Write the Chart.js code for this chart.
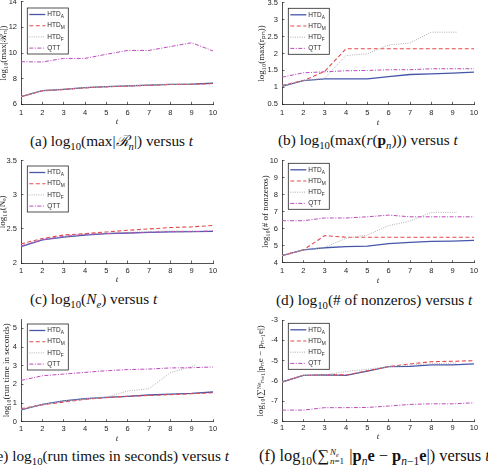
<!DOCTYPE html>
<html>
<head>
<script src="https://cdn.jsdelivr.net/npm/chart.js"></script>
<style>
    body {
        margin: 0;
        width: 488px;
        height: 471px;
        overflow: hidden;
        position: relative;
        background: white;
    }
    canvas { position: absolute; }
    .cap {
        position: absolute;
        white-space: nowrap;
        font-family: "Liberation Serif", "Times New Roman", serif;
        font-size: 15.3px;
        color: #111;
        transform: translateY(-50%);
    }
    .cap sub { font-size: 70%; vertical-align: -0.35em; line-height: 0; }
    .cap sup { font-size: 70%; vertical-align: 0.5em; line-height: 0; }
    .lim {
        display: inline-block;
        vertical-align: middle;
        font-size: 9px;
        line-height: 9px;
        margin: 0 1px;
    }
</style>
</head>
<body>

<div class="cap" style="left:30px;top:140px">(a) log<sub>10</sub>(max|<i>ℛ</i><sub><i>n</i></sub>|) versus <i>t</i></div>
<div class="cap" style="left:278px;top:140px">(b) log<sub>10</sub>(max(<i>r</i>(<b>p</b><sub><i>n</i></sub>))) versus <i>t</i></div>
<div class="cap" style="left:30px;top:299px">(c) log<sub>10</sub>(<i>N</i><sub><i>e</i></sub>) versus <i>t</i></div>
<div class="cap" style="left:276px;top:300px">(d) log<sub>10</sub>(# of nonzeros) versus <i>t</i></div>
<div class="cap" style="right:259px;top:456px">(e) log<sub>10</sub>(run times in seconds) versus <i>t</i></div>
<div class="cap" style="left:259px;top:456px;font-size:16.4px">(f) log<sub>10</sub>(∑<span class="lim"><i>N<sub>e</sub></i><br><i>n</i>=1</span> |<b>p</b><sub><i>n</i></sub><b>e</b> − <b>p</b><sub><i>n</i>−1</sub><b>e</b>|) versus <i>t</i></div>

<script>
    // time steps (HTD_F stops a bit after t = 9)
    const tSteps = [1, 2, 3, 4, 5, 6, 7, 8, 9, 10];
    const tStepsF = [1, 2, 3, 4, 5, 6, 7, 8, 9, 9.2];

    const seriesNames = ["HTD", "HTD", "HTD", "QTT"];
    const seriesSubs = ["A", "M", "F", ""];

    // (a) log10(max|R_n|)
    const aHtdA = [6.6, 7.06, 7.17, 7.3, 7.38, 7.43, 7.5, 7.56, 7.58, 7.64];
    const aHtdM = [6.6, 7.05, 7.15, 7.28, 7.36, 7.42, 7.48, 7.54, 7.57, 7.62];
    const aHtdF = [6.61, 7.07, 7.18, 7.31, 7.39, 7.44, 7.51, 7.56, 7.59, 7.6];
    const aQtt = [9.32, 9.3, 9.58, 9.58, 9.9, 10.2, 10.2, 10.5, 10.8, 10.16];

    // (b) log10(max(r(p_n)))
    const bHtdA = [1.03, 1.2, 1.25, 1.25, 1.25, 1.32, 1.38, 1.4, 1.42, 1.45];
    const bHtdM = [1.06, 1.2, 1.47, 2.14, 2.14, 2.14, 2.14, 2.14, 2.14, 2.14];
    const bHtdF = [1.04, 1.2, 1.27, 1.94, 1.99, 2.25, 2.31, 2.63, 2.63, 2.63];
    const bQtt = [1.3, 1.43, 1.46, 1.49, 1.5, 1.52, 1.52, 1.55, 1.55, 1.55];

    // (c) log10(N_e)
    const cHtdA = [2.24, 2.34, 2.38, 2.41, 2.43, 2.44, 2.45, 2.455, 2.46, 2.465];
    const cHtdM = [2.28, 2.36, 2.41, 2.43, 2.455, 2.48, 2.5, 2.52, 2.53, 2.55];
    const cHtdF = [2.25, 2.35, 2.39, 2.42, 2.44, 2.45, 2.46, 2.47, 2.47, 2.47];
    const cQtt = [2.25, 2.34, 2.39, 2.42, 2.43, 2.44, 2.45, 2.46, 2.46, 2.47];

    // (d) log10(# of nonzeros)
    const dHtdA = [4.41, 4.75, 4.88, 4.94, 4.98, 5.12, 5.2, 5.25, 5.27, 5.31];
    const dHtdM = [4.42, 4.75, 5.59, 5.5, 5.5, 5.5, 5.5, 5.5, 5.5, 5.5];
    const dHtdF = [4.42, 4.75, 4.9, 5.43, 5.63, 6.18, 6.45, 6.96, 6.96, 6.97];
    const dQtt = [6.47, 6.47, 6.63, 6.63, 6.7, 6.8, 6.7, 6.7, 6.7, 6.7];

    // (e) log10(run time in seconds)
    const eHtdA = [0.63, 0.93, 1.11, 1.23, 1.3, 1.36, 1.43, 1.48, 1.52, 1.59];
    const eHtdM = [0.7, 0.9, 1.05, 1.2, 1.29, 1.36, 1.41, 1.45, 1.5, 1.55];
    const eHtdF = [0.65, 0.92, 1.1, 1.22, 1.32, 1.64, 1.77, 2.63, 2.95, 3.04];
    const eQtt = [2.21, 2.46, 2.55, 2.64, 2.73, 2.79, 2.82, 2.88, 2.89, 2.93];

    // (f) log10(sum |p_n e - p_{n-1} e|)
    const fHtdA = [-6.05, -5.72, -5.7, -5.72, -5.51, -5.29, -5.28, -5.21, -5.21, -5.16];
    const fHtdM = [-6.05, -5.72, -5.7, -5.7, -5.5, -5.29, -5.16, -5.05, -5.03, -5.0];
    const fHtdF = [-6.05, -5.72, -5.7, -5.53, -5.42, -5.29, -5.22, -5.15, -5.12, -5.12];
    const fQtt = [-7.43, -7.43, -7.31, -7.31, -7.3, -7.23, -7.15, -7.12, -7.12, -7.07];

    const lineStyles = [
        { color: "#4656aa", width: 1.3, dash: [] },
        { color: "#e24a4e", width: 1.1, dash: [4, 2.5] },
        { color: "#b0b0b0", width: 1, dash: [1, 1.3] },
        { color: "#bb4cbb", width: 1, dash: [4, 1.5, 1, 1.5] }
    ];
    const axisColor = "#262626";

    // legend box with subscripts, drawn like the matlab one
    const boxLegend = {
        id: "boxLegend",
        afterDraw(chart, args, opts) {
            const ctx = chart.ctx, area = chart.chartArea;
            const x0 = area.left + opts.dx, y0 = area.top + opts.dy;
            const w = 41, h = 46;
            ctx.save();
            ctx.fillStyle = "#fff";
            ctx.fillRect(x0, y0, w, h);
            ctx.strokeStyle = axisColor;
            ctx.lineWidth = 0.8;
            ctx.strokeRect(x0, y0, w, h);
            chart.data.datasets.forEach((ds, i) => {
                const y = y0 + 6.5 + i * 11.2;
                ctx.beginPath();
                ctx.setLineDash(ds.borderDash || []);
                ctx.strokeStyle = ds.borderColor;
                ctx.lineWidth = ds.borderWidth;
                ctx.moveTo(x0 + 2, y);
                ctx.lineTo(x0 + 18, y);
                ctx.stroke();
                ctx.setLineDash([]);
                ctx.fillStyle = axisColor;
                ctx.textBaseline = "middle";
                ctx.font = '6.5px "Liberation Sans"';
                ctx.fillText(seriesNames[i], x0 + 20, y);
                const tw = ctx.measureText(seriesNames[i]).width;
                if (seriesSubs[i]) {
                    ctx.font = '4.8px "Liberation Sans"';
                    ctx.fillText(seriesSubs[i], x0 + 20 + tw, y + 2.4);
                }
            });
            ctx.restore();
        }
    };

    function makePanel(p) {
        const cl = p.col === 0 ? -8 : 240;
        const cr = p.col === 0 ? 232 : 488;
        const ct = Math.floor(p.plotT - 12);
        const cb = Math.ceil(p.plotB + 25);
        const cv = document.createElement("canvas");
        cv.width = cr - cl;
        cv.height = cb - ct;
        cv.style.left = cl + "px";
        cv.style.top = ct + "px";
        cv.style.width = (cr - cl) + "px";
        cv.style.height = (cb - ct) + "px";
        document.body.appendChild(cv);

        const lh = 9 * 1.2;
        const datasets = p.series.map((vals, i) => {
            const xs = i === 2 ? tStepsF : tSteps;
            return {
                label: seriesNames[i] + seriesSubs[i],
                data: xs.map((x, k) => ({ x: x, y: vals[k] })),
                borderColor: lineStyles[i].color,
                borderWidth: lineStyles[i].width,
                borderDash: lineStyles[i].dash,
                pointRadius: 0,
                tension: 0,
                fill: false,
                order: 4 - i
            };
        });

        new Chart(cv, {
            type: "line",
            data: { datasets: datasets },
            plugins: [boxLegend],
            options: {
                responsive: false,
                animation: false,
                layout: { padding: { left: 0, top: p.plotT - ct, right: cr - p.plotR, bottom: 0 } },
                plugins: {
                    legend: { display: false },
                    tooltip: { enabled: false },
                    boxLegend: { dx: 6.3, dy: p.legDy }
                },
                scales: {
                    x: {
                        type: "linear",
                        min: 1,
                        max: 10,
                        afterFit: s => { s.height = cb - p.plotB; },
                        ticks: {
                            stepSize: 1,
                            padding: p.xTickY - p.plotB + 2.5 - 4.5,
                            color: axisColor,
                            font: { family: "Liberation Sans", size: 7.5 }
                        },
                        grid: { drawOnChartArea: false, tickLength: -2.5, color: axisColor, lineWidth: 0.7 },
                        border: { color: axisColor, width: 0.8 },
                        title: {
                            display: true,
                            text: "t",
                            color: axisColor,
                            font: { family: "Liberation Serif", style: "italic", size: 9 },
                            padding: { top: 0, bottom: cb - p.xTitleY - lh / 2 }
                        }
                    },
                    y: {
                        min: p.yMin,
                        max: p.yMax,
                        afterFit: s => { s.width = p.plotL - cl; },
                        afterBuildTicks: s => {
                            s.ticks = s.ticks.filter(t => Math.abs(t.value / p.yStep - Math.round(t.value / p.yStep)) < 1e-6);
                        },
                        ticks: {
                            stepSize: p.yStep,
                            padding: 6.5,
                            color: axisColor,
                            font: { family: "Liberation Sans", size: 7.5 },
                            callback: v => String(v)
                        },
                        grid: { drawOnChartArea: false, tickLength: -2.5, color: axisColor, lineWidth: 0.7 },
                        border: { color: axisColor, width: 0.8 },
                        title: {
                            display: true,
                            text: p.yTitle,
                            color: axisColor,
                            font: { family: "Liberation Serif", size: 9 },
                            padding: { top: p.yTitleX - cl - lh / 2, bottom: 0 }
                        }
                    }
                }
            }
        });
    }

    makePanel({ col: 0, plotL: 21, plotR: 213, plotT: 1.7, plotB: 104.3, xTickY: 113, xTitleY: 122, yTitleX: 4,
        yMin: 6, yMax: 14, yStep: 2, yTitle: "log₁₀(max|ℛₙ|)", legDy: 6.3, series: [aHtdA, aHtdM, aHtdF, aQtt] });
    makePanel({ col: 1, plotL: 282, plotR: 474, plotT: 2.7, plotB: 104.3, xTickY: 112.7, xTitleY: 122.3, yTitleX: 262,
        yMin: 0.5, yMax: 3.5, yStep: 0.5, yTitle: "log₁₀(max(rₚₙ))", legDy: 5.6, series: [bHtdA, bHtdM, bHtdF, bQtt] });
    makePanel({ col: 0, plotL: 21, plotR: 213, plotT: 160.7, plotB: 263, xTickY: 271.3, xTitleY: 280, yTitleX: 3,
        yMin: 2, yMax: 3.5, yStep: 0.5, yTitle: "log₁₀(Nₑ)", legDy: 5.3, series: [cHtdA, cHtdM, cHtdF, cQtt] });
    makePanel({ col: 1, plotL: 282, plotR: 474, plotT: 160.7, plotB: 262.7, xTickY: 271, xTitleY: 281, yTitleX: 266,
        yMin: 4, yMax: 10, yStep: 1, yTitle: "log₁₀(# of nonzeros)", legDy: 2.6, series: [dHtdA, dHtdM, dHtdF, dQtt] });
    makePanel({ col: 0, plotL: 21, plotR: 213, plotT: 319, plotB: 421.7, xTickY: 429, xTitleY: 438.3, yTitleX: 6.5,
        yMin: 0, yMax: 5.5, yStep: 1, yTitle: "log₁₀(run time in seconds)", legDy: 5, series: [eHtdA, eHtdM, eHtdF, eQtt] });
    makePanel({ col: 1, plotL: 282, plotR: 474, plotT: 320, plotB: 421.7, xTickY: 428.3, xTitleY: 437, yTitleX: 261,
        yMin: -8, yMax: -3, yStep: 1, yTitle: "log₁₀(∑ᴺᵉₙ₌₁|pₙe − pₙ₋₁e|)", legDy: 3.3, series: [fHtdA, fHtdM, fHtdF, fQtt] });
</script>

</body>
</html>
